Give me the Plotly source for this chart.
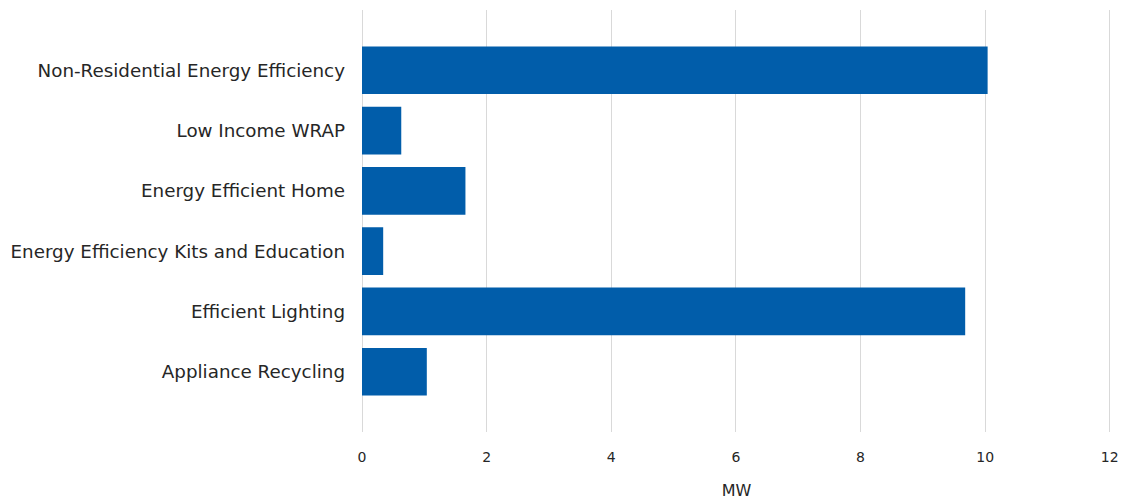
import plotly.graph_objects as go

# Programmes, listed bottom to top
programs = [
    "Appliance Recycling",
    "Efficient Lighting",
    "Energy Efficiency Kits and Education",
    "Energy Efficient Home",
    "Low Income WRAP",
    "Non-Residential Energy Efficiency",
]
savings_mw = [1.04, 9.68, 0.34, 1.66, 0.63, 10.04]

x_ticks = [0, 2, 4, 6, 8, 10, 12]

BAR_COLOR = "#015DAA"
GRID_COLOR = "#D9D9D9"
TEXT_COLOR = "#262626"
FONT = "DejaVu Sans"

fig = go.Figure(
    go.Bar(
        x=savings_mw,
        y=programs,
        orientation="h",
        marker=dict(color=BAR_COLOR, line=dict(width=0)),
        hoverinfo="x+y",
    )
)

fig.update_layout(
    width=1124,
    height=500,
    margin=dict(l=362, r=13, t=10, b=68),
    paper_bgcolor="white",
    plot_bgcolor="white",
    bargap=0.21,
    showlegend=False,
    font=dict(family=FONT, color=TEXT_COLOR),
)

fig.update_xaxes(
    # a hair past 12 so the last gridline is drawn
    range=[0, 12.02],
    tickvals=x_ticks,
    ticktext=[str(v) for v in x_ticks],
    showgrid=True,
    gridcolor=GRID_COLOR,
    gridwidth=1,
    zeroline=True,
    zerolinecolor=GRID_COLOR,
    zerolinewidth=1,
    showline=False,
    ticks="",
    automargin=False,
    ticklabelstandoff=15,
    tickfont=dict(size=14, family=FONT, color=TEXT_COLOR),
    title=dict(text="MW", standoff=22, font=dict(size=16, family=FONT, color=TEXT_COLOR)),
)

fig.update_yaxes(
    type="category",
    categoryorder="array",
    categoryarray=programs,
    range=[-1, 6],
    showgrid=False,
    showline=False,
    zeroline=False,
    ticks="",
    automargin=False,
    ticklabelstandoff=16,
    tickfont=dict(size=18.3, family=FONT, color=TEXT_COLOR),
)

fig.write_html("out.html")
